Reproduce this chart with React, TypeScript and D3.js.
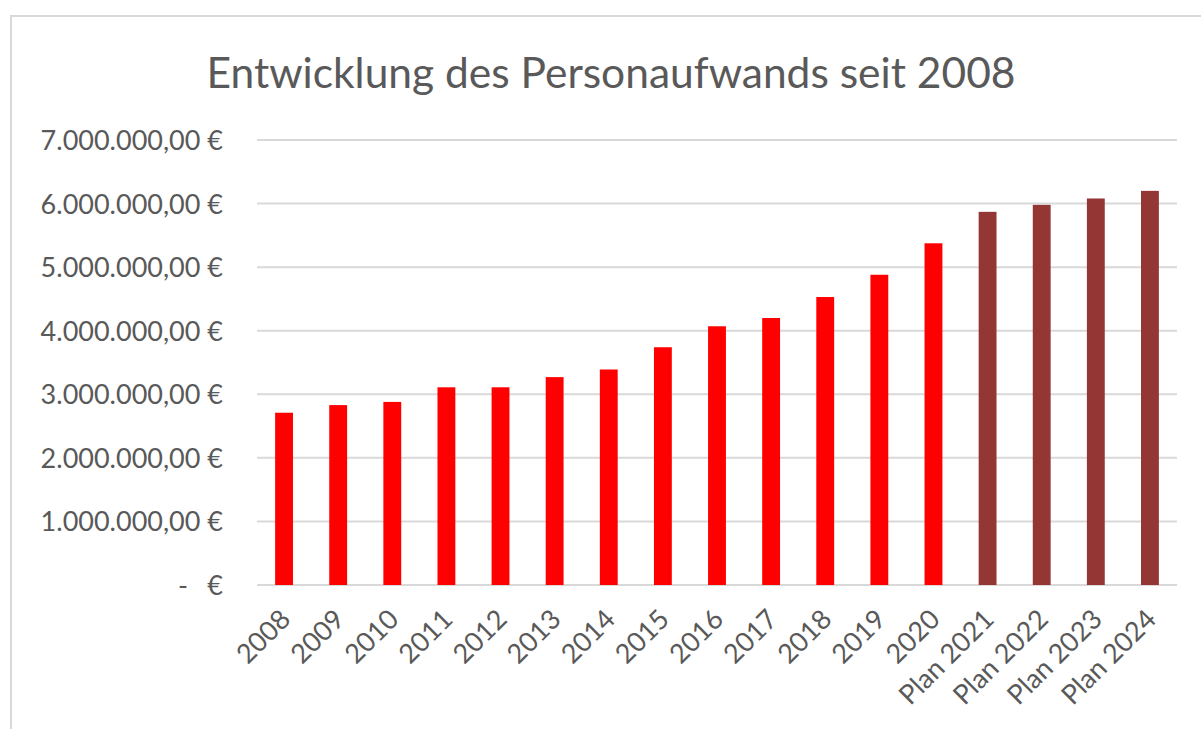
import React from "react";
import * as d3 from "d3";

const categories = ["2008","2009","2010","2011","2012","2013","2014","2015","2016","2017","2018","2019","2020","Plan 2021","Plan 2022","Plan 2023","Plan 2024"];
const values = [2710000,2830000,2880000,3110000,3110000,3270000,3390000,3740000,4070000,4200000,4530000,4880000,5375000,5870000,5980000,6080000,6200000];
const isPlan = [false,false,false,false,false,false,false,false,false,false,false,false,false,true,true,true,true];
const yTicks = [0,1000000,2000000,3000000,4000000,5000000,6000000,7000000];
const title = "Entwicklung des Personaufwands seit 2008";

const W = 1201, H = 729;
const plotLeft = 257, plotRight = 1177, plotTop = 140, plotBottom = 585;
const font = "Lato, 'Open Sans', sans-serif";
const textColor = "#595959";

const fmt = (v: number) => {
  const s = d3.format(",.2f")(v);
  return s.replace(/,/g, "#").replace(/\./g, ",").replace(/#/g, ".");
};

export default function App() {
  const x = d3.scaleBand<string>().domain(categories).range([plotLeft, plotRight]).paddingInner(0.67).paddingOuter(0.335);
  const y = d3.scaleLinear().domain([0, 7000000]).range([plotBottom, plotTop]);
  return (
    <svg width={W} height={H} style={{ position: "absolute", left: 0, top: 0, background: "#fff" }}>
      <rect x={0} y={0} width={W} height={H} fill="#fff" />
      <rect x={11} y={16} width={1200} height={740} fill="none" stroke="#d9d9d9" strokeWidth={2} />
      <text x={611} y={88} textAnchor="middle" fontFamily={font} fontSize={42.5} fill={textColor}>{title}</text>
      {yTicks.map((t) => (
        <line key={"g" + t} x1={plotLeft} x2={plotRight} y1={y(t)} y2={y(t)} stroke="#d9d9d9" strokeWidth={2} />
      ))}
      {yTicks.map((t) =>
        t === 0 ? (
          <g key={"l" + t}>
            <text x={183} y={y(t) + 10} textAnchor="middle" fontFamily={font} fontSize={27} fill={textColor}>-</text>
            <text x={223} y={y(t) + 10} textAnchor="end" fontFamily={font} fontSize={27} fill={textColor}>€</text>
          </g>
        ) : (
          <text key={"l" + t} x={223} y={y(t) + 10} textAnchor="end" fontFamily={font} fontSize={27} fill={textColor}>{fmt(t) + " €"}</text>
        )
      )}
      {categories.map((c, i) => (
        <rect key={c} x={x(c)} y={y(values[i])} width={x.bandwidth()} height={plotBottom - y(values[i])} fill={isPlan[i] ? "#943634" : "#ff0000"} />
      ))}
      {categories.map((c) => {
        const cx = (x(c) as number) + x.bandwidth() / 2 + 8;
        const cy = 621;
        return (
          <text key={"x" + c} x={cx} y={cy} transform={`rotate(-45 ${cx} ${cy})`} textAnchor="end" fontFamily={font} fontSize={27} fill={textColor}>{c}</text>
        );
      })}
    </svg>
  );
}
